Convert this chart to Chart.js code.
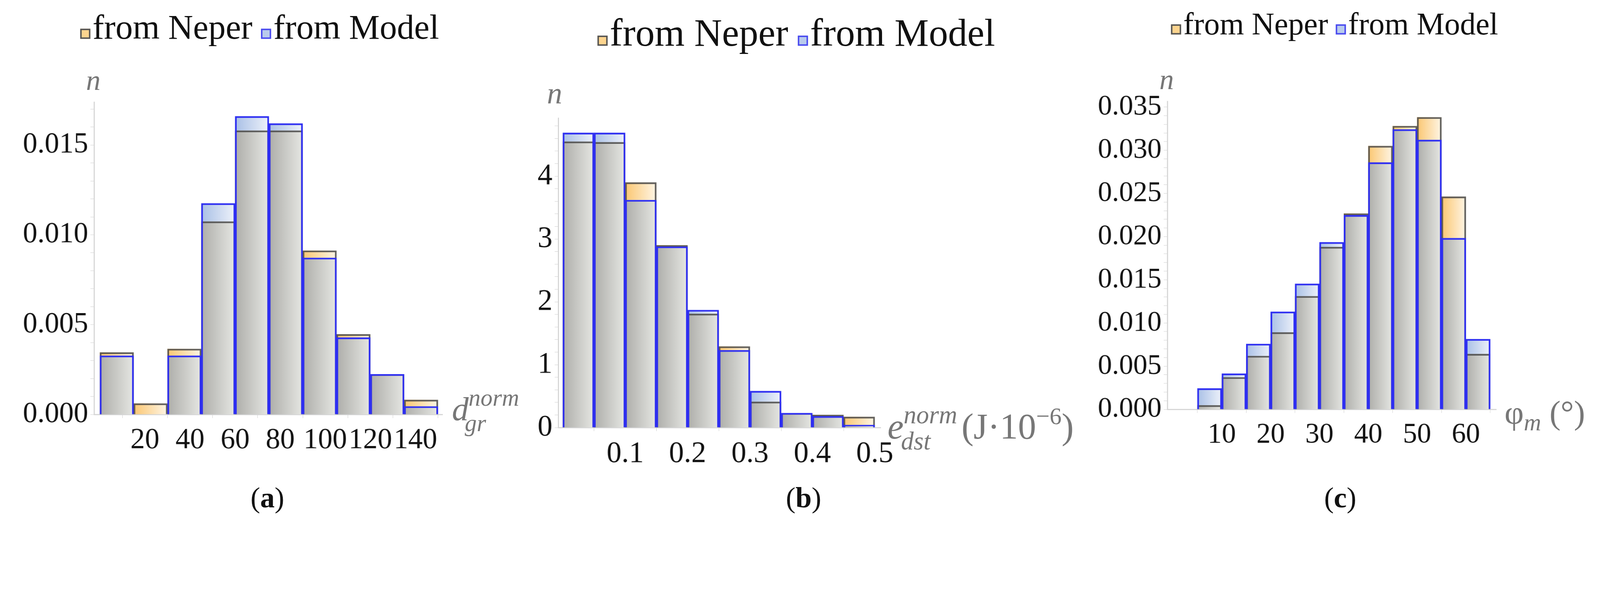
<!DOCTYPE html>
<html>
<head>
<meta charset="utf-8">
<script src="https://cdn.jsdelivr.net/npm/chart.js@4"></script>
<style>
  html, body { margin: 0; padding: 0; background: #fff; overflow: hidden; }
  #page { width: 4408px; height: 1535px; position: absolute; left: 0; top: 0; transform-origin: 0 0;
          font-family: "Liberation Serif", "DejaVu Serif", serif; }
  canvas { position: absolute; }
  .legend { position: absolute; white-space: nowrap; color: #111; }
  .legend i { display: inline-block; width: 20px; height: 20px; border: 4px solid; margin-right: 6px; }
  .lab { position: absolute; color: #777; font-style: italic; white-space: nowrap; line-height: 1; }
  .cap { position: absolute; font-size: 80px; color: #111; line-height: 1; }
</style>
</head>
<body>
<div id="page">
<div class="legend" style="left:221px;top:20px;font-size:95px"><i style="background:#fcd48e;border-color:#555"></i>from Neper <i style="background:#b9cbec;border-color:#4a4af0"></i>from Model</div>
<div class="legend" style="left:1646px;top:30px;font-size:106px"><i style="background:#fcd48e;border-color:#555"></i>from Neper <i style="background:#b9cbec;border-color:#4a4af0"></i>from Model</div>
<div class="legend" style="left:3226px;top:16px;font-size:86px"><i style="background:#fcd48e;border-color:#555"></i>from Neper <i style="background:#b9cbec;border-color:#4a4af0"></i>from Model</div>

<div class="lab" style="left:237px;top:180px;font-size:80px">n</div>
<div class="lab" style="left:1507px;top:215px;font-size:84px">n</div>
<div class="lab" style="left:3194px;top:178px;font-size:80px">n</div>

<div class="lab" style="left:1245px;top:1080px;font-size:92px">d<span style="position:relative;top:-40px;font-size:66px">norm</span><span style="position:relative;left:-150px;top:30px;font-size:66px">gr</span></div>
<div class="lab" style="left:2445px;top:1125px;font-size:100px">e<span style="position:relative;top:-42px;font-size:70px">norm</span><span style="position:relative;left:-155px;top:30px;font-size:70px">dst</span><span style="font-style:normal;margin-left:-70px">(J·10<span style="position:relative;top:-40px;font-size:66px">−6</span>)</span></div>
<div class="lab" style="left:4145px;top:1090px;font-size:92px"><span style="font-style:normal">φ</span><span style="position:relative;top:18px;font-size:66px">m</span> <span style="font-style:normal">(°)</span></div>

<div class="cap" style="left:690px;top:1330px">(<b>a</b>)</div>
<div class="cap" style="left:2165px;top:1330px">(<b>b</b>)</div>
<div class="cap" style="left:3648px;top:1330px">(<b>c</b>)</div>

<canvas id="chartA"></canvas>
<canvas id="chartB"></canvas>
<canvas id="chartC"></canvas>
</div>

<script>
// fit the 4408x1535 layout to whatever viewport we get
const fit = Math.min(window.innerWidth / 4408, window.innerHeight / 1535);
document.getElementById('page').style.transform = 'scale(' + fit + ')';

// Panel (a): grain size d_gr^norm
const dEdges = [0, 15, 30, 45, 60, 75, 90, 105, 120, 135, 150];
const dNeper = [0.00345, 0.00061, 0.00365, 0.01074, 0.0158, 0.0158, 0.00912, 0.00446, 0.00224, 0.00081];
const dModel = [0.00327, 0, 0.00327, 0.01175, 0.0166, 0.0162, 0.00872, 0.00428, 0.00224, 0.00045];
const dTicksX = [20, 40, 60, 80, 100, 120, 140];
const dTicksY = [0, 0.005, 0.010, 0.015];

// Panel (b): stored energy e_dst^norm
const eEdges = [0, 0.05, 0.1, 0.15, 0.2, 0.25, 0.3, 0.35, 0.4, 0.45, 0.5];
const eNeper = [4.55, 4.54, 3.90, 2.90, 1.81, 1.29, 0.41, 0.23, 0.20, 0.17];
const eModel = [4.69, 4.69, 3.62, 2.88, 1.87, 1.23, 0.58, 0.23, 0.18, 0.04];
const eTicksX = [0.1, 0.2, 0.3, 0.4, 0.5];
const eTicksY = [0, 1, 2, 3, 4];

// Panel (c): misorientation angle phi_m
const pEdges = [5, 10, 15, 20, 25, 30, 35, 40, 45, 50, 55, 60, 65];
const pNeper = [0.00047, 0.00371, 0.00618, 0.00891, 0.0131, 0.0188, 0.02267, 0.03049, 0.0328, 0.03382, 0.02463, 0.00641];
const pModel = [0.00242, 0.00414, 0.00758, 0.0113, 0.01454, 0.01935, 0.02248, 0.02858, 0.03241, 0.0312, 0.01982, 0.00813];
const pTicksX = [10, 20, 30, 40, 50, 60];
const pTicksY = [0, 0.005, 0.010, 0.015, 0.020, 0.025, 0.030, 0.035];

function gradFill(edges, from, to) {
  return (ctx) => {
    const chart = ctx.chart;
    const xs = chart.scales.x;
    if (!chart.chartArea || !xs || ctx.dataIndex === undefined) return from;
    const x0 = xs.getPixelForValue(edges[ctx.dataIndex]);
    const x1 = xs.getPixelForValue(edges[ctx.dataIndex + 1]);
    const g = chart.ctx.createLinearGradient(x0, 0, x1, 0);
    g.addColorStop(0, from);
    g.addColorStop(1, to);
    return g;
  };
}

function points(edges, vals) {
  return vals.map((v, i) => ({ x: (edges[i] + edges[i + 1]) / 2, y: v }));
}

function makeChart(id, box, edges, neper, model, ticksX, ticksY, yMax, yMinor, xMin, xMax, fontSize, fmt) {
  const yW = 270, xH = 140, padTop = 60, padRight = 60;
  const cv = document.getElementById(id);
  cv.width = yW + (box.R - box.L) + padRight;
  cv.height = padTop + (box.B - box.T) + xH;
  cv.style.left = (box.L - yW) + 'px';
  cv.style.top = (box.T - padTop) + 'px';
  const overlap = neper.map((v, i) => Math.min(v, model[i]));
  const base = { barPercentage: 1, categoryPercentage: 1, grouped: false };
  new Chart(cv, {
    type: 'bar',
    data: {
      datasets: [
        { ...base, label: 'from Neper', data: points(edges, neper), order: 5,
          backgroundColor: gradFill(edges, '#fbc772', '#fff6e6'), borderWidth: 0 },
        { ...base, label: 'from Model', data: points(edges, model), order: 4,
          backgroundColor: gradFill(edges, '#a9c0e6', '#eef2fa'), borderWidth: 0 },
        { ...base, label: 'overlap', data: points(edges, overlap), order: 3,
          backgroundColor: gradFill(edges, '#aeaeaa', '#e6e7e3'), borderWidth: 0 },
        { ...base, label: 'Neper edge', data: points(edges, neper), order: 2,
          backgroundColor: 'rgba(0,0,0,0)', borderColor: 'rgba(70,70,70,0.85)', borderWidth: 4 },
        { ...base, label: 'Model edge', data: points(edges, model), order: 1,
          backgroundColor: 'rgba(0,0,0,0)', borderColor: '#2e2ef2', borderWidth: 4 }
      ]
    },
    options: {
      responsive: false,
      devicePixelRatio: 1,
      animation: false,
      layout: { padding: { top: padTop, right: padRight, left: 0, bottom: 0 } },
      plugins: { legend: { display: false }, tooltip: { enabled: false } },
      scales: {
        x: {
          type: 'linear', offset: false, min: xMin, max: xMax,
          afterFit: (s) => { s.height = xH; },
          afterBuildTicks: (s) => { s.ticks = ticksX.map(v => ({ value: v })); },
          grid: { drawOnChartArea: false, tickLength: 10, color: '#ccc' },
          border: { color: '#d4d4d4', width: 3 },
          ticks: { color: '#111', font: { family: 'Liberation Serif', size: fontSize }, padding: 14,
                   maxRotation: 0, autoSkip: false, callback: (v) => String(v) }
        },
        y: {
          min: 0, max: yMax,
          afterFit: (s) => { s.width = yW; },
          afterBuildTicks: (s) => {
            const t = [];
            for (let v = 0; v <= yMax + 1e-9; v += yMinor) t.push({ value: +v.toFixed(6) });
            s.ticks = t;
          },
          grid: { drawOnChartArea: false, tickLength: 10, color: '#ccc' },
          border: { color: '#d4d4d4', width: 3 },
          ticks: { color: '#111', font: { family: 'Liberation Serif', size: fontSize }, padding: 6, autoSkip: false,
                   callback: (v) => ticksY.some(t => Math.abs(t - v) < 1e-9) ? fmt(v) : '' }
        }
      }
    }
  });
}

makeChart('chartA', { L: 259, R: 1219, T: 281, B: 1141 }, dEdges, dNeper, dModel, dTicksX, dTicksY,
  0.01739, 0.001, -2.6, 152, 80, (v) => v.toFixed(3));
makeChart('chartB', { L: 1538, R: 2426, T: 325, B: 1177 }, eEdges, eNeper, eModel, eTicksX, eTicksY,
  4.925, 0.2, -0.0073, 0.5093, 82, (v) => String(Math.round(v)));
makeChart('chartC', { L: 3216, R: 4122, T: 279, B: 1127 }, pEdges, pNeper, pModel, pTicksX, pTicksY,
  0.03566, 0.001, -1.15, 66.2, 78, (v) => v.toFixed(3));
</script>
</body>
</html>
